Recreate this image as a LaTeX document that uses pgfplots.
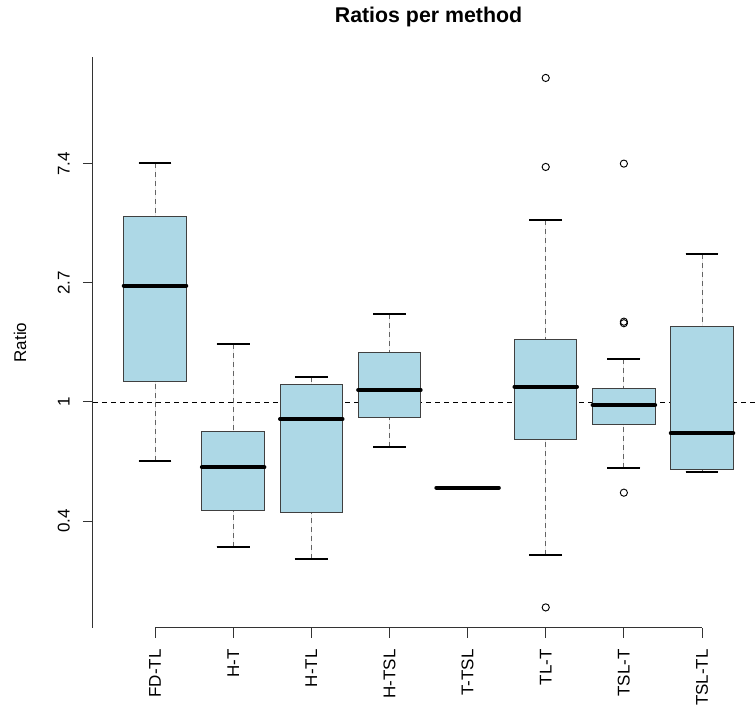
\documentclass[border=0pt]{standalone}
\usepackage{pgfplots}
\pgfplotsset{compat=1.18}
\usepgfplotslibrary{statistics}
\usepackage{fontspec}
\setmainfont{Liberation Sans}
\definecolor{lightblue}{RGB}{173,216,230}
\definecolor{boxline}{RGB}{64,64,64}
\definecolor{whisk}{RGB}{100,100,100}
\pgfplotsset{
  boxplot/draw/lower whisker/.code={%
    \draw[whisk, line width=0.75pt, dash pattern=on 3.75pt off 3pt]
      (boxplot box cs:\pgfplotsboxplotvalue{lower whisker},0.5) --
      (boxplot box cs:\pgfplotsboxplotvalue{lower quartile},0.5);
    \draw[black, line width=1.6pt]
      (boxplot whisker cs:\pgfplotsboxplotvalue{lower whisker},0) --
      (boxplot whisker cs:\pgfplotsboxplotvalue{lower whisker},1);
  },
  boxplot/draw/upper whisker/.code={%
    \draw[whisk, line width=0.75pt, dash pattern=on 3.75pt off 3pt]
      (boxplot box cs:\pgfplotsboxplotvalue{upper whisker},0.5) --
      (boxplot box cs:\pgfplotsboxplotvalue{upper quartile},0.5);
    \draw[black, line width=1.6pt]
      (boxplot whisker cs:\pgfplotsboxplotvalue{upper whisker},0) --
      (boxplot whisker cs:\pgfplotsboxplotvalue{upper whisker},1);
  },
  rbox/.style={
    draw=boxline, fill=lightblue, line width=0.75pt,
    mark=o, mark size=2.7pt, mark options={draw=black, fill=none, solid, line width=0.7pt},
    boxplot/draw direction=y,
    boxplot/box extend=0.8,
    boxplot/whisker extend=0.42,
    boxplot/every median/.style={black, line width=3pt, line cap=round},
  },
}
\begin{document}
\begin{tikzpicture}[x=0.75pt,y=0.75pt]
\path[use as bounding box] (0,0) rectangle (756,709);
\begin{axis}[
  at={(69.75pt,60.75pt)}, anchor=south west,
  scale only axis, width=497.25pt, height=428.25pt,
  xmin=0.2065, xmax=8.691, ymin=-1.899, ymax=2.899,
  clip=false,
  axis lines*=left,
  x axis line style={draw=none},
  y axis line style={black!80, line width=0.75pt},
  xtick={1,2,3,4,5,6,7,8},
  xticklabels={FD-TL,H-T,H-TL,H-TSL,T-TSL,TL-T,TSL-T,TSL-TL},
  ytick={-1,0,1,2},
  yticklabels={0.4,1,2.7,7.4},
  tick align=outside,
  major tick length=7.5pt,
  tick style={black!80, line width=0.75pt},
  xticklabel style={yshift=-8.25pt, rotate=90, anchor=east, inner sep=0pt, font=\fontsize{12.75}{15}\selectfont},
  yticklabel style={xshift=-9.75pt, rotate=90, anchor=south, inner sep=0pt, font=\fontsize{12.75}{15}\selectfont},
  ylabel={Ratio},
  every axis y label/.style={at={(rel axis cs:0,0.5)}, xshift=-54.75pt, rotate=90, anchor=center, font=\fontsize{12.75}{15}\selectfont},
  title={\bfseries Ratios per method},
  every axis title/.style={at={(rel axis cs:0.5,1)}, anchor=center, yshift=30pt, xshift=3pt, font=\fontsize{16}{19}\selectfont},
]
\draw[black!80, line width=0.75pt] (axis cs:1,-1.899) -- (axis cs:8,-1.899);
\addplot[black, line width=0.7pt, dash pattern=on 3.75pt off 3pt] coordinates {(0.2065,0) (8.691,0)};
% FD-TL
\addplot[rbox, boxplot prepared={draw position=1, lower whisker=-0.496, lower quartile=0.171, median=0.978, upper quartile=1.557, upper whisker=2.008}] coordinates {};
% H-T
\addplot[rbox, boxplot prepared={draw position=2, lower whisker=-1.218, lower quartile=-0.913, median=-0.549, upper quartile=-0.252, upper whisker=0.487}] coordinates {};
% H-TL
\addplot[rbox, boxplot prepared={draw position=3, lower whisker=-1.317, lower quartile=-0.927, median=-0.143, upper quartile=0.143, upper whisker=0.210}] coordinates {};
% H-TSL
\addplot[rbox, boxplot prepared={draw position=4, lower whisker=-0.378, lower quartile=-0.134, median=0.101, upper quartile=0.420, upper whisker=0.739}] coordinates {};
% T-TSL
\addplot[rbox, boxplot prepared={draw position=5, lower whisker=-0.720, lower quartile=-0.720, median=-0.720, upper quartile=-0.720, upper whisker=-0.720}] coordinates {};
% TL-T
\addplot[rbox, boxplot prepared={draw position=6, lower whisker=-1.286, lower quartile=-0.314, median=0.129, upper quartile=0.529, upper whisker=1.529}] table[row sep=\\, y index=0] {y\\ 2.723\\ 1.975\\ -1.726\\};
% TSL-T
\addplot[rbox, boxplot prepared={draw position=7, lower whisker=-0.552, lower quartile=-0.193, median=-0.025, upper quartile=0.115, upper whisker=0.364}] table[row sep=\\, y index=0] {y\\ 2.003\\ 0.675\\ 0.662\\ -0.762\\};
% TSL-TL
\addplot[rbox, boxplot prepared={draw position=8, lower whisker=-0.586, lower quartile=-0.571, median=-0.263, upper quartile=0.633, upper whisker=1.244}] coordinates {};
\end{axis}
\end{tikzpicture}
\end{document}
